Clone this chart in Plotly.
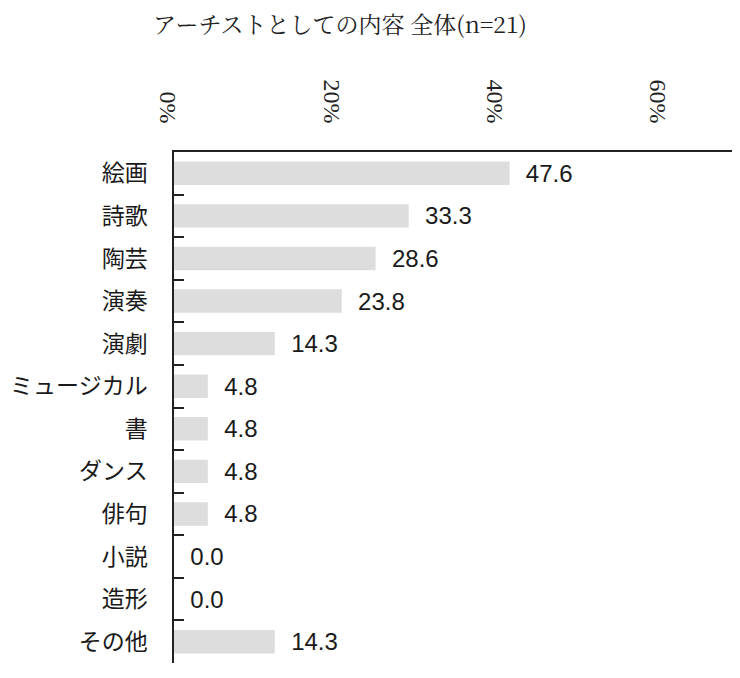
import plotly.graph_objects as go

# data
categories = ['絵画', '詩歌', '陶芸', '演奏', '演劇', 'ミュージカル', '書', 'ダンス', '俳句', '小説', '造形', 'その他']
values = [47.6, 33.3, 28.6, 23.8, 14.3, 4.8, 4.8, 4.8, 4.8, 0.0, 0.0, 14.3]
tick_pcts = [0, 20, 40, 60]
tick_labels = ['0%', '20%', '40%', '60%']
title = 'アーチストとしての内容 全体(n=21)'

fig = go.Figure()
fig.add_trace(go.Bar(
    y=categories, x=values, orientation='h',
    width=0.55,
    marker_color='#dddddd', marker_line_width=0,
    text=values, texttemplate='\u00a0\u00a0%{x:.1f}',
    textposition='outside', cliponaxis=False, constraintext='none',
    textfont=dict(family='Liberation Sans, Arial', size=24, color='#1a1a1a'),
    hoverinfo='skip',
))
# empty trace so the percentage label axis gets drawn
fig.add_trace(go.Scatter(x=[], y=[], xaxis='x2', yaxis='y', showlegend=False))

# page body has an 8px margin, so the figure is 8px smaller than the window
fig.update_layout(
    width=732, height=670,
    paper_bgcolor='white', plot_bgcolor='white',
    margin=dict(l=166, r=0, t=144, b=15),
    showlegend=False,
    title=dict(text=title, x=0.4536, xanchor='center', y=0.9746, yanchor='middle',
               font=dict(family='Noto Serif CJK JP, Noto Sans CJK JP', size=23, color='#222')),
    xaxis=dict(range=[0, 80.3], side='top', showline=True, linecolor='#222', linewidth=1.5,
               showgrid=False, zeroline=False, showticklabels=False, ticks='', automargin=False),
    xaxis2=dict(overlaying='x', side='top', range=[0, 69.3],
                tickmode='array', tickvals=tick_pcts, ticktext=tick_labels, tickangle=90,
                showline=False, showgrid=False, zeroline=False, ticks='', automargin=False,
                ticklabelstandoff=24, ticklabelshift=-6,
                tickfont=dict(family='Liberation Serif, Times New Roman', size=24, color='#222')),
    yaxis=dict(categoryorder='array', categoryarray=categories, autorange='reversed',
               showline=True, linecolor='#222', linewidth=1.5, showgrid=False, zeroline=False,
               tickson='boundaries', ticks='inside', ticklen=10, tickcolor='#222', tickwidth=1.5,
               ticklabelstandoff=20, automargin=False,
               tickfont=dict(family='Noto Sans CJK JP', size=23, color='#1a1a1a')),
)

fig.write_html("out.html")
